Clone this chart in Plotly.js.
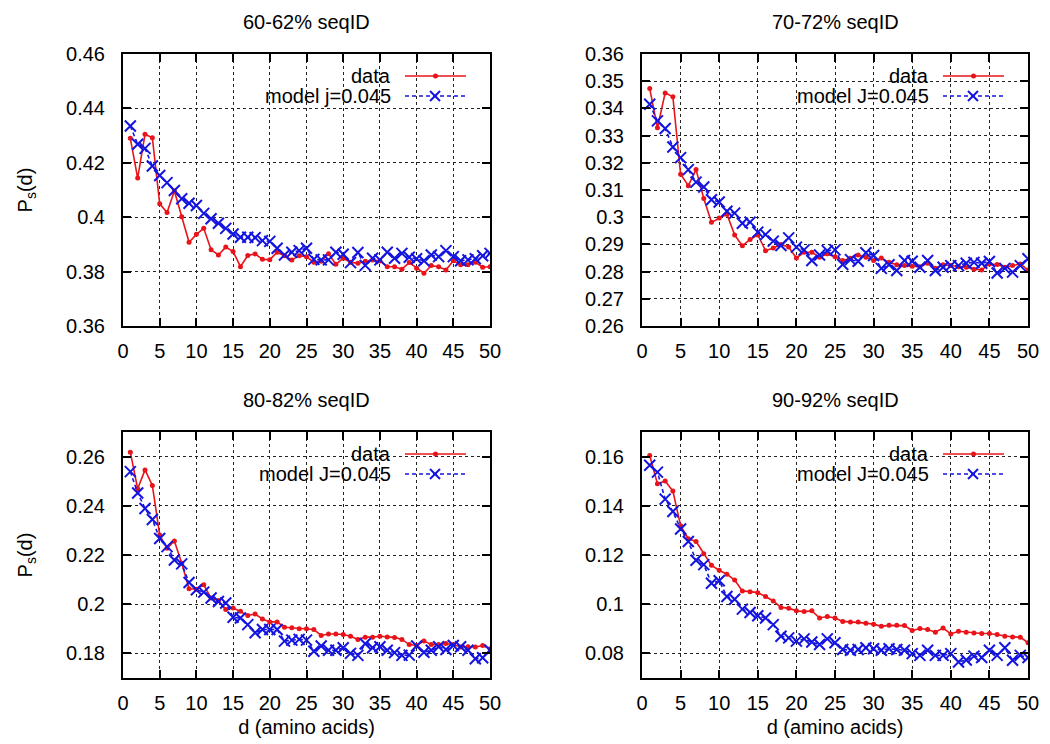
<!DOCTYPE html>
<html>
<head>
<meta charset="utf-8">
<script src="https://cdn.plot.ly/plotly-3.0.1.min.js"></script>
<style>
html,body{margin:0;padding:0;background:#fff;}
#chart{width:1050px;height:744px;}
</style>
</head>
<body>
<div id="chart"></div>
<script>
// ---------- data ----------
const d = [1,2,3,4,5,6,7,8,9,10,11,12,13,14,15,16,17,18,19,20,21,22,23,24,25,26,27,28,29,30,31,32,33,34,35,36,37,38,39,40,41,42,43,44,45,46,47,48,49,50];

const titles = ["60-62% seqID", "70-72% seqID", "80-82% seqID", "90-92% seqID"];
const modelLabels = ["model j=0.045", "model J=0.045", "model J=0.045", "model J=0.045"];
const dataLabel = "data";
const xTitle = "d (amino acids)";
const yTitle = "P<sub>s</sub>(d)";

const data60 = [0.4290,0.4144,0.4305,0.4292,0.4049,0.4017,0.4096,0.4002,0.3908,0.3937,
  0.3959,0.3880,0.3861,0.3890,0.3874,0.3818,0.3859,0.3865,0.3845,0.3844,
  0.3871,0.3858,0.3843,0.3858,0.3855,0.3834,0.3838,0.3866,0.3827,0.3849,
  0.3834,0.3831,0.3838,0.3843,0.3839,0.3818,0.3818,0.3809,0.3833,0.3812,
  0.3794,0.3822,0.3818,0.3806,0.3840,0.3825,0.3825,0.3834,0.3816,0.3818];
const model60 = [0.4335,0.4268,0.4253,0.4188,0.4153,0.4127,0.4098,0.4068,0.4051,0.4043,
  0.4014,0.3994,0.3978,0.3959,0.3938,0.3926,0.3926,0.3925,0.3914,0.3911,
  0.3886,0.3861,0.3871,0.3877,0.3886,0.3845,0.3843,0.3843,0.3871,0.3864,
  0.3833,0.3870,0.3823,0.3849,0.3843,0.3871,0.3849,0.3867,0.3853,0.3847,
  0.3840,0.3861,0.3855,0.3877,0.3855,0.3840,0.3843,0.3847,0.3858,0.3867];

const data70 = [0.3473,0.3329,0.3457,0.3443,0.3158,0.3116,0.3175,0.3069,0.2981,0.2997,
  0.3011,0.2935,0.2895,0.2918,0.2935,0.2877,0.2887,0.2900,0.2890,0.2850,
  0.2871,0.2871,0.2853,0.2865,0.2855,0.2841,0.2849,0.2861,0.2853,0.2841,
  0.2850,0.2834,0.2825,0.2822,0.2820,0.2818,0.2831,0.2812,0.2825,0.2822,
  0.2818,0.2816,0.2809,0.2806,0.2828,0.2826,0.2816,0.2822,0.2828,0.2806];
const model70 = [0.3415,0.3354,0.3326,0.3258,0.3219,0.3175,0.3129,0.3111,0.3064,0.3056,
  0.3022,0.3015,0.2978,0.2982,0.2945,0.2936,0.2912,0.2896,0.2924,0.2890,
  0.2880,0.2841,0.2861,0.2877,0.2880,0.2826,0.2844,0.2838,0.2869,0.2859,
  0.2812,0.2825,0.2804,0.2841,0.2838,0.2816,0.2841,0.2804,0.2816,0.2822,
  0.2822,0.2831,0.2834,0.2831,0.2837,0.2795,0.2812,0.2798,0.2822,0.2847];

const data80 = [0.2618,0.2469,0.2546,0.2483,0.2281,0.2227,0.2257,0.2166,0.2063,0.2061,
  0.2079,0.2025,0.2015,0.1978,0.1985,0.1971,0.1954,0.1960,0.1940,0.1928,
  0.1928,0.1906,0.1904,0.1900,0.1900,0.1897,0.1873,0.1879,0.1879,0.1877,
  0.1870,0.1857,0.1866,0.1866,0.1870,0.1867,0.1865,0.1857,0.1836,0.1832,
  0.1850,0.1836,0.1836,0.1840,0.1836,0.1826,0.1827,0.1826,0.1832,0.1819];
const model80 = [0.2539,0.2452,0.2389,0.2344,0.2267,0.2234,0.2180,0.2164,0.2088,0.2059,
  0.2049,0.2025,0.2011,0.2005,0.1947,0.1944,0.1917,0.1884,0.1897,0.1897,
  0.1897,0.1850,0.1854,0.1857,0.1854,0.1809,0.1830,0.1813,0.1813,0.1823,
  0.1800,0.1792,0.1839,0.1823,0.1827,0.1813,0.1803,0.1792,0.1793,0.1830,
  0.1805,0.1813,0.1827,0.1816,0.1832,0.1827,0.1813,0.1778,0.1782,0.1813];

const data90 = [0.1604,0.1490,0.1501,0.1460,0.1319,0.1266,0.1255,0.1205,0.1158,0.1138,
  0.1122,0.1098,0.1054,0.1051,0.1047,0.1031,0.1013,0.0987,0.0984,0.0973,
  0.0970,0.0973,0.0944,0.0950,0.0944,0.0930,0.0928,0.0928,0.0923,0.0919,
  0.0910,0.0914,0.0914,0.0913,0.0893,0.0901,0.0897,0.0886,0.0903,0.0879,
  0.0890,0.0886,0.0883,0.0881,0.0881,0.0877,0.0870,0.0867,0.0866,0.0843];
const model90 = [0.1565,0.1537,0.1427,0.1377,0.1306,0.1255,0.1179,0.1161,0.1085,0.1095,
  0.1031,0.1020,0.0980,0.0966,0.0953,0.0944,0.0917,0.0870,0.0863,0.0850,
  0.0859,0.0846,0.0836,0.0859,0.0843,0.0816,0.0813,0.0816,0.0823,0.0819,
  0.0813,0.0819,0.0816,0.0813,0.0799,0.0792,0.0813,0.0792,0.0792,0.0799,
  0.0765,0.0773,0.0789,0.0783,0.0813,0.0792,0.0823,0.0772,0.0792,0.0783];

const xTicks = [0,5,10,15,20,25,30,35,40,45,50];
const yTicks60 = [0.36,0.38,0.40,0.42,0.44,0.46];
const yTickText60 = ["0.36","0.38","0.4","0.42","0.44","0.46"];
const yTicks70 = [0.26,0.27,0.28,0.29,0.30,0.31,0.32,0.33,0.34,0.35,0.36];
const yTickText70 = ["0.26","0.27","0.28","0.29","0.3","0.31","0.32","0.33","0.34","0.35","0.36"];
const yTicks80 = [0.18,0.20,0.22,0.24,0.26];
const yTickText80 = ["0.18","0.2","0.22","0.24","0.26"];
const yTicks90 = [0.08,0.10,0.12,0.14,0.16];
const yTickText90 = ["0.08","0.1","0.12","0.14","0.16"];

// ---------- layout helpers ----------
const W = 1050, H = 744;
const RED = "#e8141a", BLUE = "#1414e0";
const FONT = "Liberation Sans, Arial, Helvetica, sans-serif";
const panels = [
  {px:[123,490], py:[54,326],  data:data60, model:model60, yr:[0.36,0.46], tv:yTicks60, tt:yTickText60, ytitle:true,  xtitle:false},
  {px:[642,1028],py:[54,326],  data:data70, model:model70, yr:[0.26,0.36], tv:yTicks70, tt:yTickText70, ytitle:false, xtitle:false},
  {px:[123,490], py:[432,678], data:data80, model:model80, yr:[0.17,0.27], tv:yTicks80, tt:yTickText80, ytitle:true,  xtitle:true},
  {px:[642,1028],py:[432,678], data:data90, model:model90, yr:[0.07,0.17], tv:yTicks90, tt:yTickText90, ytitle:false, xtitle:true}
];
const fx = v => v / W;
const fy = v => 1 - v / H;

const traces = [];
const layout = {
  width: W, height: H,
  margin: {l:0, r:0, t:0, b:0},
  paper_bgcolor: "#fff", plot_bgcolor: "#fff",
  showlegend: false,
  font: {family: FONT, size: 20, color: "#000"},
  annotations: [], shapes: []
};

panels.forEach((p, i) => {
  const n = i === 0 ? "" : String(i + 1);
  const xa = "x" + n, ya = "y" + n;
  traces.push({
    x: d, y: p.data, xaxis: xa, yaxis: ya, type: "scatter", mode: "lines+markers",
    name: dataLabel, line: {color: RED, width: 1.6},
    marker: {color: RED, size: 5, symbol: "circle"}
  });
  traces.push({
    x: d, y: p.model, xaxis: xa, yaxis: ya, type: "scatter", mode: "lines+markers",
    name: modelLabels[i], line: {color: BLUE, width: 1.6, dash: "4px,3px"},
    marker: {color: BLUE, size: 11, symbol: "x-thin", line: {color: BLUE, width: 2}}
  });
  const common = {
    showline: true, linecolor: "#000", linewidth: 2, mirror: "ticks",
    ticks: "inside", ticklen: 8, tickwidth: 2, tickcolor: "#000",
    showgrid: true, gridcolor: "#222", griddash: "dot", gridwidth: 1,
    zeroline: false, tickfont: {family: FONT, size: 20, color: "#000"},
    fixedrange: true
  };
  layout["xaxis" + n] = Object.assign({}, common, {
    domain: [fx(p.px[0]), fx(p.px[1])], anchor: ya, range: [0, 50],
    tickvals: xTicks, ticklabelstandoff: 6
  });
  if (p.xtitle) layout["xaxis" + n].title = {text: xTitle, font: {family: FONT, size: 20}, standoff: 7};
  layout["yaxis" + n] = Object.assign({}, common, {
    domain: [fy(p.py[1]), fy(p.py[0])], anchor: xa, range: p.yr,
    tickvals: p.tv, ticktext: p.tt, ticklabelstandoff: 12
  });
  if (p.ytitle) layout["yaxis" + n].title = {text: yTitle, font: {family: FONT, size: 20}, standoff: 28};

  // panel title
  layout.annotations.push({
    xref: "paper", yref: "paper", x: fx((p.px[0] + p.px[1]) / 2), y: fy(p.py[0] - 32),
    text: titles[i], showarrow: false, xanchor: "center", yanchor: "middle",
    font: {family: FONT, size: 20, color: "#000"}
  });
  // key box (hides grid under key)
  const R = p.px[1], T = p.py[0];
  const boxL = i === 0 || i === 2 ? R - 256 : R - 258;
  layout.shapes.push({
    type: "rect", layer: "between", xref: "paper", yref: "paper",
    x0: fx(boxL), x1: fx(R - 1), y0: fy(T + 51), y1: fy(T + 1),
    fillcolor: "#fff", line: {width: 0}
  });
  // key texts
  [[dataLabel, 22], [modelLabels[i], 42]].forEach(([txt, off]) => {
    layout.annotations.push({
      xref: "paper", yref: "paper", x: fx(R - 97), y: fy(T + off),
      text: txt, showarrow: false, xanchor: "right", yanchor: "middle",
      font: {family: FONT, size: 20, color: "#000"}
    });
  });
  // key samples
  layout.shapes.push({type: "line", layer: "above", xref: "paper", yref: "paper",
    x0: fx(R - 85), x1: fx(R - 24), y0: fy(T + 22), y1: fy(T + 22), line: {color: RED, width: 1.6}});
  layout.shapes.push({type: "circle", layer: "above", xref: "paper", yref: "paper",
    x0: fx(R - 57), x1: fx(R - 52), y0: fy(T + 24.5), y1: fy(T + 19.5), fillcolor: RED, line: {color: RED, width: 0}});
  layout.shapes.push({type: "line", layer: "above", xref: "paper", yref: "paper",
    x0: fx(R - 85), x1: fx(R - 24), y0: fy(T + 42), y1: fy(T + 42), line: {color: BLUE, width: 1.6, dash: "4px,3px"}});
  layout.shapes.push({type: "line", layer: "above", xref: "paper", yref: "paper",
    x0: fx(R - 60), x1: fx(R - 50), y0: fy(T + 37), y1: fy(T + 47), line: {color: BLUE, width: 2}});
  layout.shapes.push({type: "line", layer: "above", xref: "paper", yref: "paper",
    x0: fx(R - 60), x1: fx(R - 50), y0: fy(T + 47), y1: fy(T + 37), line: {color: BLUE, width: 2}});
});

Plotly.newPlot("chart", traces, layout, {staticPlot: true, displayModeBar: false});
</script>
</body>
</html>
